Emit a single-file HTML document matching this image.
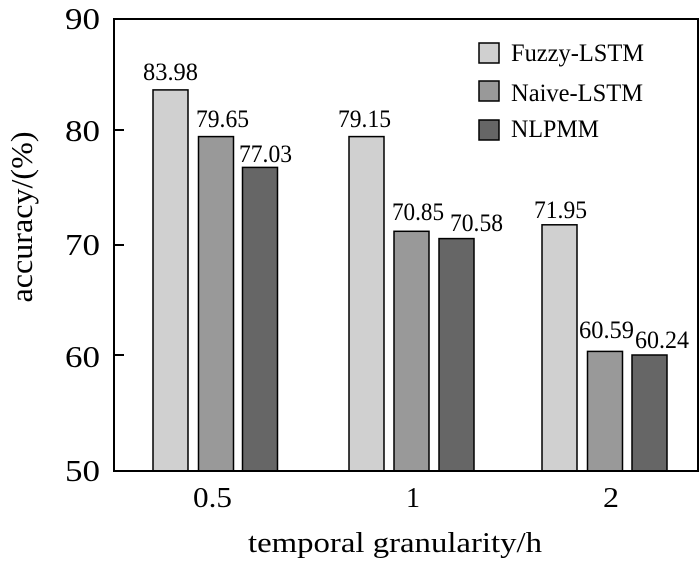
<!DOCTYPE html>
<html><head><style>body{margin:0;background:#fff}svg{display:block}</style></head><body>
<svg width="700" height="562" xmlns="http://www.w3.org/2000/svg" font-family="Liberation Serif, serif">
<g stroke="#000" stroke-width="1.5">
<rect x="153" y="89.9" width="35" height="381.1" fill="#d0d0d0"/>
<rect x="198.5" y="136.6" width="35" height="334.4" fill="#999"/>
<rect x="242.5" y="167.4" width="35" height="303.6" fill="#666"/>
<rect x="349" y="136.6" width="35" height="334.4" fill="#d0d0d0"/>
<rect x="394" y="231.3" width="35" height="239.7" fill="#999"/>
<rect x="439" y="238.6" width="35" height="232.4" fill="#666"/>
<rect x="542" y="224.8" width="35" height="246.2" fill="#d0d0d0"/>
<rect x="587.5" y="351.4" width="35" height="119.6" fill="#999"/>
<rect x="632" y="355" width="35" height="116" fill="#666"/>
<rect x="479" y="43" width="20" height="20" fill="#d0d0d0"/>
<rect x="479" y="81" width="20" height="20" fill="#999"/>
<rect x="479" y="120" width="20" height="20" fill="#666"/>
</g>
<path d="M114 19 H698 V471 H114 Z M114 130 h10 M114 245 h10 M114 355 h10" fill="none" stroke="#000" stroke-width="2"/>
<g font-size="31">
<text x="65" y="29" textLength="35" lengthAdjust="spacingAndGlyphs">90</text>
<text x="65" y="141" textLength="35" lengthAdjust="spacingAndGlyphs">80</text>
<text x="65" y="255" textLength="35" lengthAdjust="spacingAndGlyphs">70</text>
<text x="65" y="367" textLength="35" lengthAdjust="spacingAndGlyphs">60</text>
<text x="65" y="481" textLength="35" lengthAdjust="spacingAndGlyphs">50</text>
</g>
<text transform="translate(32,217) rotate(-90)" font-size="31" text-anchor="middle" textLength="171" lengthAdjust="spacingAndGlyphs">accuracy/(%)</text>
<g font-size="29">
<text x="193" y="507" textLength="39" lengthAdjust="spacingAndGlyphs">0.5</text>
<text x="406" y="507" textLength="14" lengthAdjust="spacingAndGlyphs">1</text>
<text x="603" y="507" textLength="16" lengthAdjust="spacingAndGlyphs">2</text>
<text x="248" y="552" textLength="294" lengthAdjust="spacingAndGlyphs">temporal granularity/h</text>
</g>
<g font-size="25">
<text x="143" y="80" textLength="55" lengthAdjust="spacingAndGlyphs">83.98</text>
<text x="196" y="127" textLength="53" lengthAdjust="spacingAndGlyphs">79.65</text>
<text x="239" y="162" textLength="53" lengthAdjust="spacingAndGlyphs">77.03</text>
<text x="338" y="127" textLength="53" lengthAdjust="spacingAndGlyphs">79.15</text>
<text x="392" y="220" textLength="52" lengthAdjust="spacingAndGlyphs">70.85</text>
<text x="450" y="231" textLength="53" lengthAdjust="spacingAndGlyphs">70.58</text>
<text x="534" y="218" textLength="53" lengthAdjust="spacingAndGlyphs">71.95</text>
<text x="579" y="338" textLength="55" lengthAdjust="spacingAndGlyphs">60.59</text>
<text x="635" y="348" textLength="54" lengthAdjust="spacingAndGlyphs">60.24</text>
</g>
<g font-size="25">
<text x="511" y="61" textLength="133" lengthAdjust="spacingAndGlyphs">Fuzzy-LSTM</text>
<text x="511" y="101" textLength="132" lengthAdjust="spacingAndGlyphs">Naive-LSTM</text>
<text x="511" y="137" textLength="88" lengthAdjust="spacingAndGlyphs">NLPMM</text>
</g>
</svg>
</body></html>
